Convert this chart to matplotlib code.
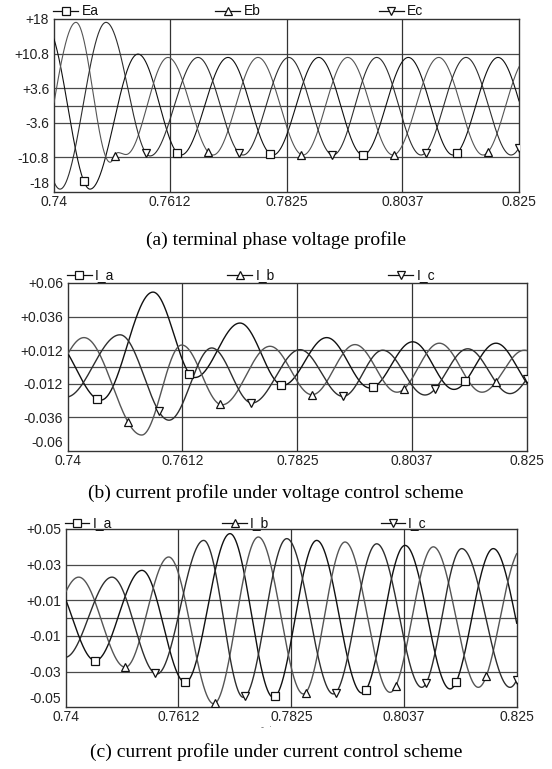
import numpy as np
import matplotlib
matplotlib.use("Agg")
import matplotlib.pyplot as plt

# ---------------------------------------------------------------- data
T_START, T_END = 0.74, 0.825
x_ticks = [0.74, 0.7612, 0.7825, 0.8037, 0.825]
x_tick_labels = ["0.74", "0.7612", "0.7825", "0.8037", "0.825"]

# (a) terminal phase voltages: instants (s) of successive peaks/troughs and their values
ea_t = [0.73854, 0.74658, 0.75536, 0.76322, 0.77181, 0.78004, 0.78839, 0.79649,
        0.80477, 0.81294, 0.82117, 0.82940]
ea_v = [16.5, -17.4, 10.7, -10.3, 10.0, -10.3, 10.0, -10.3, 10.0, -10.3, 10.0, -10.3]
eb_t = [0.73580, 0.74402, 0.75024, 0.75170, 0.75316, 0.76084, 0.76907, 0.77729,
        0.78552, 0.79369, 0.80197, 0.81033, 0.81843, 0.82665]
eb_v = [-17.3, 17.3, -11.8, -9.8, -10.2, 10.0, -10.3, 10.0, -10.3, 10.0, -10.3, 10.0,
        -10.3, 10.0]
ec_t = [0.73287, 0.74110, 0.74951, 0.75755, 0.76633, 0.77455, 0.78291, 0.79101,
        0.79899, 0.80709, 0.81532, 0.82355, 0.83177]
ec_v = [17.3, -17.4, 17.3, -10.5, 10.0, -10.3, 10.0, -10.3, 10.0, -10.3, 10.0, -10.3, 10.0]
a_yticks = [18, 10.8, 3.6, -3.6, -10.8, -18]
a_ytick_labels = ["+18", "+10.8", "+3.6", "-3.6", "-10.8", "-18"]
a_grid = [10.8, 3.6, 0.0, -3.6, -10.8]

# (b) line currents, voltage control scheme
ia_b_t = [0.73704, 0.74611, 0.75574, 0.76352, 0.77185, 0.77981, 0.78791, 0.79593,
          0.80383, 0.81148, 0.81926, 0.82704]
ia_b_v = [0.020, -0.0236, 0.0535, -0.0075, 0.0314, -0.013, 0.021, -0.015, 0.018,
          -0.016, 0.017, -0.017]
ib_b_t = [0.73463, 0.74296, 0.75365, 0.76106, 0.76852, 0.77741, 0.78519, 0.79315,
          0.80093, 0.80876, 0.81667, 0.82450, 0.83241]
ib_b_v = [-0.020, 0.021, -0.0486, 0.0157, -0.027, 0.0148, -0.0198, 0.016, -0.018,
          0.017, -0.018, 0.012, -0.017]
ic_b_t = [0.73185, 0.73963, 0.74963, 0.75870, 0.76661, 0.77407, 0.78296, 0.79093,
          0.79828, 0.80611, 0.81402, 0.82185, 0.82981]
ic_b_v = [0.020, -0.0215, 0.023, -0.038, 0.0136, -0.0257, 0.0124, -0.021, 0.012,
          -0.020, 0.013, -0.019, 0.013]
b_yticks = [0.06, 0.036, 0.012, -0.012, -0.036, -0.06]
b_ytick_labels = ["+0.06", "+0.036", "+0.012", "-0.012", "-0.036", "-0.06"]
b_grid = [0.036, 0.012, 0.0, -0.012, -0.036]

# (c) line currents, current control scheme
ia_c_t = [0.73698, 0.74553, 0.75433, 0.76250, 0.77093, 0.77910, 0.78728, 0.79583,
          0.80394, 0.81243, 0.82059, 0.82902]
ia_c_v = [0.023, -0.0238, 0.0268, -0.036, 0.0474, -0.0444, 0.0436, -0.042, 0.0408,
          -0.0397, 0.039, -0.039]
ib_c_t = [0.73378, 0.74240, 0.75118, 0.75937, 0.76786, 0.77627, 0.78476, 0.79262,
          0.80111, 0.80928, 0.81776, 0.82601, 0.83430]
ib_c_v = [-0.022, 0.023, -0.0275, 0.0343, -0.048, 0.0455, -0.0425, 0.0427, -0.0416,
          0.040, -0.0388, 0.039, -0.039]
ic_c_t = [0.73132, 0.73981, 0.74868, 0.75716, 0.76597, 0.77344, 0.78163, 0.79041,
          0.79860, 0.80709, 0.81463, 0.82374, 0.83223]
ic_c_v = [0.022, -0.022, 0.023, -0.0313, 0.0436, -0.0444, 0.0446, -0.0425, 0.0417,
          -0.0388, 0.039, -0.0388, 0.039]
c_yticks = [0.05, 0.03, 0.01, -0.01, -0.03, -0.05]
c_ytick_labels = ["+0.05", "+0.03", "+0.01", "-0.01", "-0.03", "-0.05"]
c_grid = [0.03, 0.01, 0.0, -0.01, -0.03]

# ---------------------------------------------------------------- style
W, H = 552, 769
SANS = ["Liberation Sans", "DejaVu Sans"]
SERIF = ["Liberation Serif", "DejaVu Serif"]
PHASE_COLORS = ["#111111", "#555555", "#2e2e2e"]
MARKERS = ["s", "^", "v"]
MARK_T0, MARK_STEP, MARK_SHIFT = 0.7454, 0.01705, 0.005685

fig = plt.figure(figsize=(W / 100, H / 100), dpi=100)
fig.patch.set_facecolor("white")


def px_rect(left, top, right, bottom):
    return [left / W, 1 - bottom / H, (right - left) / W, (bottom - top) / H]


def wave(t_ext, v_ext, t):
    t_ext = np.asarray(t_ext, float)
    v_ext = np.asarray(v_ext, float)
    i = np.clip(np.searchsorted(t_ext, t, side="right") - 1, 0, len(t_ext) - 2)
    t0, t1 = t_ext[i], t_ext[i + 1]
    v0, v1 = v_ext[i], v_ext[i + 1]
    frac = (t - t0) / (t1 - t0)
    return v0 + (v1 - v0) * (1 - np.cos(np.pi * frac)) / 2


def panel(rect_px, series, names, ylim, yticks, ylabels, grid, caption, cap_y,
          leg_dy, lw):
    ax = fig.add_axes(px_rect(*rect_px))
    w_px = rect_px[2] - rect_px[0]
    h_px = rect_px[3] - rect_px[1]
    t = np.linspace(T_START, T_END, 2500)
    for k, ((te, ve), name) in enumerate(zip(series, names)):
        col = PHASE_COLORS[k]
        ax.plot(t, wave(te, ve, t), color=col, lw=lw, zorder=3)
        tm = np.arange(MARK_T0 + k * MARK_SHIFT, T_END + 1e-6, MARK_STEP)
        ax.plot(tm, wave(te, ve, tm), ls="none", marker=MARKERS[k], ms=6,
                mfc="white", mec="#111111", mew=0.9, zorder=4)
        # legend entry above the frame
        x0 = [-0.002, 0.347, 0.698][k]
        ly = 1 + leg_dy / h_px
        ax.plot([x0, x0 + 0.054], [ly, ly], transform=ax.transAxes, color="#111111",
                lw=0.9, clip_on=False)
        ax.plot([x0 + 0.027], [ly], transform=ax.transAxes, ls="none",
                marker=MARKERS[k], ms=6, mfc="white", mec="#111111", mew=0.9,
                clip_on=False)
        ax.text(x0 + 0.061, ly, name, transform=ax.transAxes, ha="left",
                va="center", fontsize=10, family=SANS, color="#111111")
    for g in grid:
        ax.axhline(g, color="#4a4a4a", lw=0.9, zorder=1)
    for g in x_ticks[1:-1]:
        ax.axvline(g, color="#333333", lw=0.9, zorder=1)
    ax.set_xlim(T_START, T_END)
    ax.set_ylim(*ylim)
    ax.set_xticks(x_ticks)
    ax.set_xticklabels(x_tick_labels)
    ax.set_yticks(yticks)
    # the lowest value label is lifted a little so it clears the first time label
    ax.set_yticklabels(list(ylabels[:-1]) + [""])
    ax.text(-5 / w_px, 8 / h_px, ylabels[-1], transform=ax.transAxes, ha="right",
            va="center", fontsize=10, family=SANS, color="#222222")
    ax.tick_params(axis="both", length=0, labelsize=10, colors="#222222")
    ax.tick_params(axis="y", pad=3.5)
    ax.tick_params(axis="x", pad=2)
    for lab in ax.get_xticklabels() + ax.get_yticklabels():
        lab.set_family(SANS)
    for sp in ax.spines.values():
        sp.set_color("#333333")
        sp.set_linewidth(1.0)
    fig.text(0.5, 1 - cap_y / H, caption, ha="center", va="center",
             fontsize=14, family=SERIF, color="black")
    return ax


panel((54, 19, 519, 192),
      [(ea_t, ea_v), (eb_t, eb_v), (ec_t, ec_v)], ["Ea", "Eb", "Ec"],
      (-18, 18), a_yticks, a_ytick_labels, a_grid,
      "(a) terminal phase voltage profile", 240, 8, 0.8)

panel((68, 283, 527, 451),
      [(ia_b_t, ia_b_v), (ib_b_t, ib_b_v), (ic_b_t, ic_b_v)], ["I_a", "I_b", "I_c"],
      (-0.06, 0.06), b_yticks, b_ytick_labels, b_grid,
      "(b) current profile under voltage control scheme", 493, 8, 1.0)

panel((66, 529, 516.7, 707.3),
      [(ia_c_t, ia_c_v), (ib_c_t, ib_c_v), (ic_c_t, ic_c_v)], ["I_a", "I_b", "I_c"],
      (-0.05, 0.05), c_yticks, c_ytick_labels, c_grid,
      "(c) current profile under current control scheme", 752, 6, 1.0)

fig.text(266 / W, 1 - 727 / H, "-  \u00b7", ha="center", va="center",
         fontsize=6, color="#666666")

fig.savefig("out.png", dpi=100, facecolor="white")
